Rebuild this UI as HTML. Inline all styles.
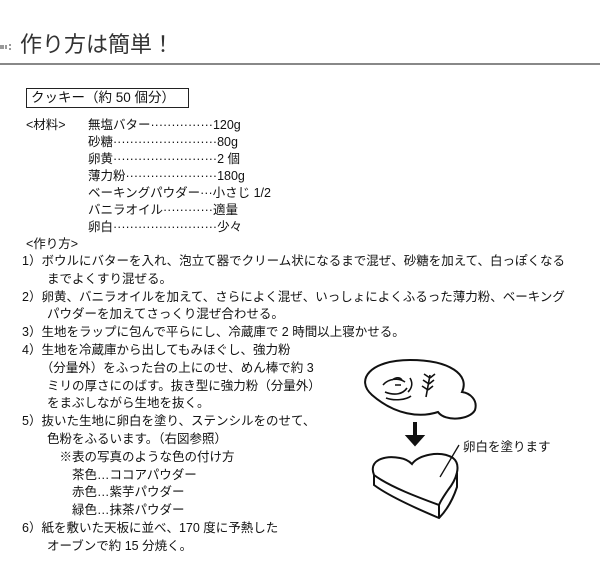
<!DOCTYPE html>
<html><head><meta charset="utf-8"><style>
body{margin:0;background:#fff;width:600px;height:567px;position:relative;overflow:hidden;font-family:"Liberation Sans","Noto Sans CJK JP",sans-serif;color:#111}
.a{position:absolute;white-space:nowrap;font-size:12.5px;line-height:17px}
</style></head><body>
<div style="position:absolute;left:0;top:45px;width:4px;height:4px;background:#999"></div>
<div style="position:absolute;left:5px;top:45px;width:2px;height:4px;background:#999"></div>
<div style="position:absolute;left:9px;top:44px;width:2px;height:2px;background:#999"></div>
<div style="position:absolute;left:9px;top:48px;width:2px;height:2px;background:#999"></div>
<div class="a" style="left:20px;top:30px;font-size:22px;line-height:30px;color:#333">作り方は簡単！</div>
<div style="position:absolute;left:0;top:63px;width:600px;height:2px;background:#888"></div>
<div class="a" style="left:26px;top:88px;width:157px;height:18px;border:1px solid #222;font-size:13.5px;line-height:18px;padding-left:4px;box-sizing:content-box">クッキー（約 50 個分）</div>
<div class="a" style="left:26px;top:117px">&lt;材料&gt;</div>
<div class="a" style="left:88px;top:117px">無塩バター···············120g<br>砂糖·························80g<br>卵黄·························2 個<br>薄力粉······················180g<br>ベーキングパウダー···小さじ 1/2<br>バニラオイル············適量<br>卵白·························少々</div>
<div class="a" style="left:26px;top:236px">&lt;作り方&gt;</div>
<div class="a" style="left:22px;top:253px;line-height:17.8px">1）ボウルにバターを入れ、泡立て器でクリーム状になるまで混ぜ、砂糖を加えて、白っぽくなる<br>　　までよくすり混ぜる。<br>2）卵黄、バニラオイルを加えて、さらによく混ぜ、いっしょによくふるった薄力粉、ベーキング<br>　　パウダーを加えてさっくり混ぜ合わせる。<br>3）生地をラップに包んで平らにし、冷蔵庫で 2 時間以上寝かせる。<br>4）生地を冷蔵庫から出してもみほぐし、強力粉<br>　　（分量外）をふった台の上にのせ、めん棒で約 3<br>　　ミリの厚さにのばす。抜き型に強力粉（分量外）<br>　　をまぶしながら生地を抜く。<br>5）抜いた生地に卵白を塗り、ステンシルをのせて、<br>　　色粉をふるいます。（右図参照）<br>　　　※表の写真のような色の付け方<br>　　　　茶色…ココアパウダー<br>　　　　赤色…紫芋パウダー<br>　　　　緑色…抹茶パウダー<br>6）紙を敷いた天板に並べ、170 度に予熱した<br>　　オーブンで約 15 分焼く。</div>
<svg style="position:absolute;left:0;top:0" width="600" height="567" fill="none" stroke="#111" stroke-width="2">
<path d="M372 395 C355 380 370 360 410 360 C450 360 470 375 462 392 C470 393 478 400 475 410 C470 420 445 422 438 412 C420 418 395 415 372 395Z"/>
<path d="M383 385 c5-6 15-8 22-3 M385 392 c10 4 18 2 22-4 M392 380 c4-3 8-3 10 0 M395 385 h6 M386 398 c8 3 20 2 25-2 M410 378 c3 5 2 10-2 14" stroke-width="1.6"/>
<path d="M430 375 l-4 22 M430 378 l-6-4 M430 378 l5-4 M429 384 l-6-4 M429 384 l5-4 M428 390 l-6-4 M428 390 l5-4" stroke-width="1.6"/>
<line x1="415" y1="422" x2="415" y2="438" stroke-width="4"/>
<path d="M407 436 h16 l-8 9Z" fill="#111"/>
<path d="M374 475 C368 460 385 455 400 458 C406 459 410 462 412 464 C418 455 440 450 453 458 C462 465 456 480 448 490 C444 496 441 500 439 505 C420 498 390 487 374 475Z" fill="#fff"/>
<path d="M374 475 v10 C390 497 420 510 439 518 C445 512 452 502 457 487 v-14"/>
<line x1="439" y1="505" x2="439" y2="518"/>
<line x1="440" y1="477" x2="459" y2="445" stroke-width="1.3"/>
</svg>
<div class="a" style="left:463px;top:439px">卵白を塗ります</div>
</body></html>
